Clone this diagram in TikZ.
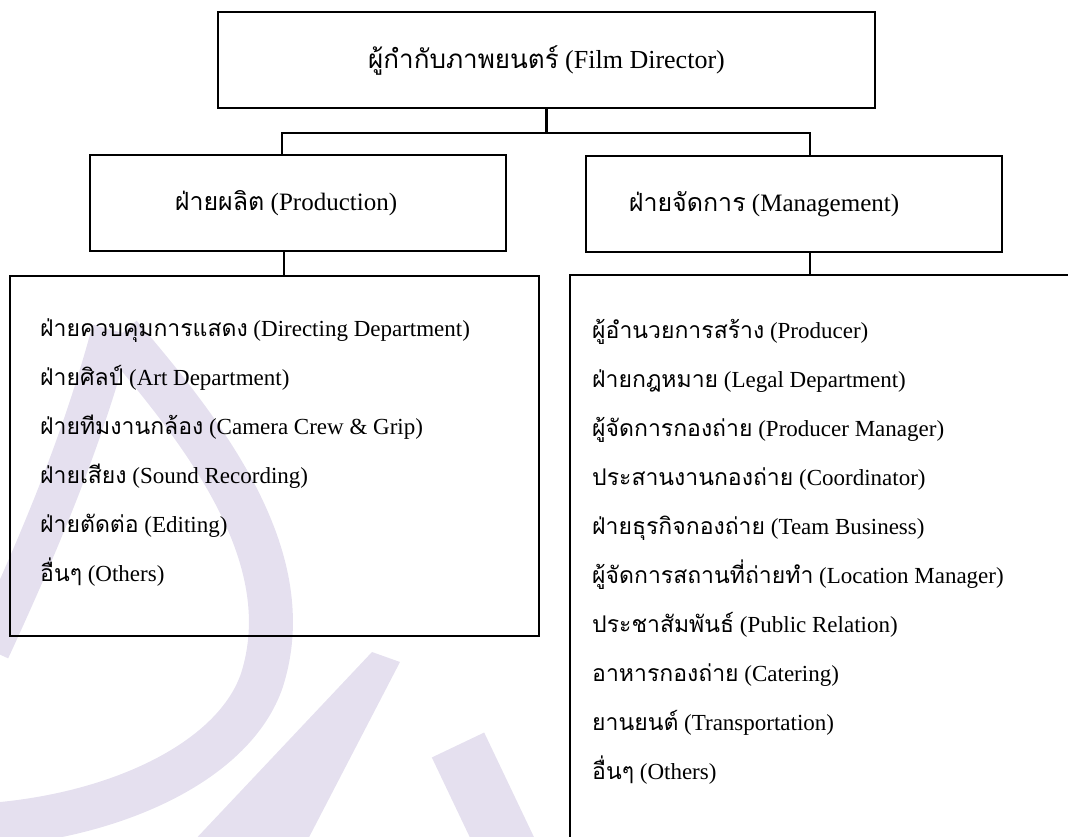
\documentclass[tikz,border=0pt]{standalone}
\usepackage{fontspec}
\setmainfont{Liberation Serif}
\newfontfamily\thaifont[Script=Thai]{Loma}
\newcommand{\thx}[1]{{\thaifont #1}}
\definecolor{lav}{RGB}{229,224,239}
\tikzset{
  box/.style={draw=black, line width=2.4pt, rectangle, inner sep=0pt},
  conn/.style={draw=black, line width=2.2pt},
  item/.style={anchor=base west, inner sep=0pt, font=\fontsize{23}{27}\selectfont},
  title/.style={inner sep=0pt, font=\fontsize{25}{30}\selectfont},
  wm/.style={draw=lav, line cap=butt}
}
\begin{document}
\begin{tikzpicture}[x=1pt,y=-1pt]
\useasboundingbox (0,0) rectangle (1068,837);
\clip (0,0) rectangle (1068,837);
% watermark
\draw[wm, line width=40pt] (112,330) .. controls (85,430) and (50,520) .. (-10,650);
\draw[wm, line width=44pt] (120,335) .. controls (210,440) and (300,560) .. (262,680) .. controls (235,760) and (120,815) .. (-10,825);
\fill[lav] (372,652) -- (400,662) -- (305,845) -- (190,845) -- cycle;
\draw[wm, line width=58pt] (458,745) -- (508,850);
% boxes
\node[box, minimum width=657pt, minimum height=96pt] (dir) at (546.5,60) {};
\node[title, font=\fontsize{26}{30}\selectfont] (dirt) at (dir.center) {\thx{ผู้กำกับภาพยนตร์} (Film Director)};
\node[box, minimum width=416pt, minimum height=96pt] (prod) at (298,203) {};
\node[title] (prodt) at ([xshift=-12pt]prod.center) {\thx{ฝ่ายผลิต} (Production)};
\node[box, minimum width=416pt, minimum height=96pt] (mgmt) at (794,204) {};
\node[title] (mgmtt) at ([xshift=-30pt]mgmt.center) {\thx{ฝ่ายจัดการ} (Management)};
\node[box, minimum width=529pt, minimum height=360pt] (plist) at (274.5,456) {};
\node[box, minimum width=540pt, minimum height=620pt] (mlist) at (840,585) {};
% connectors
\draw[conn] (dir.south) -- ++(0,24) coordinate (j);
\draw[conn] ([xshift=-16pt]prod.north) |- (j) -| ([xshift=16pt]mgmt.north);
\draw[conn] ([xshift=-14pt]prod.south) -- ([xshift=-14pt]prod.south |- plist.north);
\draw[conn] ([xshift=16pt]mgmt.south) -- ([xshift=16pt]mgmt.south |- mlist.north);
% production list
\node[item] (p1) at (40,336) {\thx{ฝ่ายควบคุมการแสดง} (Directing Department)};
\node[item] (p2) at (40,385) {\thx{ฝ่ายศิลป์} (Art Department)};
\node[item] (p3) at (40,434) {\thx{ฝ่ายทีมงานกล้อง} (Camera Crew \& Grip)};
\node[item] (p4) at (40,483) {\thx{ฝ่ายเสียง} (Sound Recording)};
\node[item] (p5) at (40,532) {\thx{ฝ่ายตัดต่อ} (Editing)};
\node[item] (p6) at (40,581) {\thx{อื่นๆ} (Others)};
% management list
\node[item] (m1) at (592,338) {\thx{ผู้อำนวยการสร้าง} (Producer)};
\node[item] (m2) at (592,387) {\thx{ฝ่ายกฎหมาย} (Legal Department)};
\node[item] (m3) at (592,436) {\thx{ผู้จัดการกองถ่าย} (Producer Manager)};
\node[item] (m4) at (592,485) {\thx{ประสานงานกองถ่าย} (Coordinator)};
\node[item] (m5) at (592,534) {\thx{ฝ่ายธุรกิจกองถ่าย} (Team Business)};
\node[item] (m6) at (592,583) {\thx{ผู้จัดการสถานที่ถ่ายทำ} (Location Manager)};
\node[item] (m7) at (592,632) {\thx{ประชาสัมพันธ์} (Public Relation)};
\node[item] (m8) at (592,681) {\thx{อาหารกองถ่าย} (Catering)};
\node[item] (m9) at (592,730) {\thx{ยานยนต์} (Transportation)};
\node[item] (m10) at (592,779) {\thx{อื่นๆ} (Others)};
\end{tikzpicture}
\end{document}
